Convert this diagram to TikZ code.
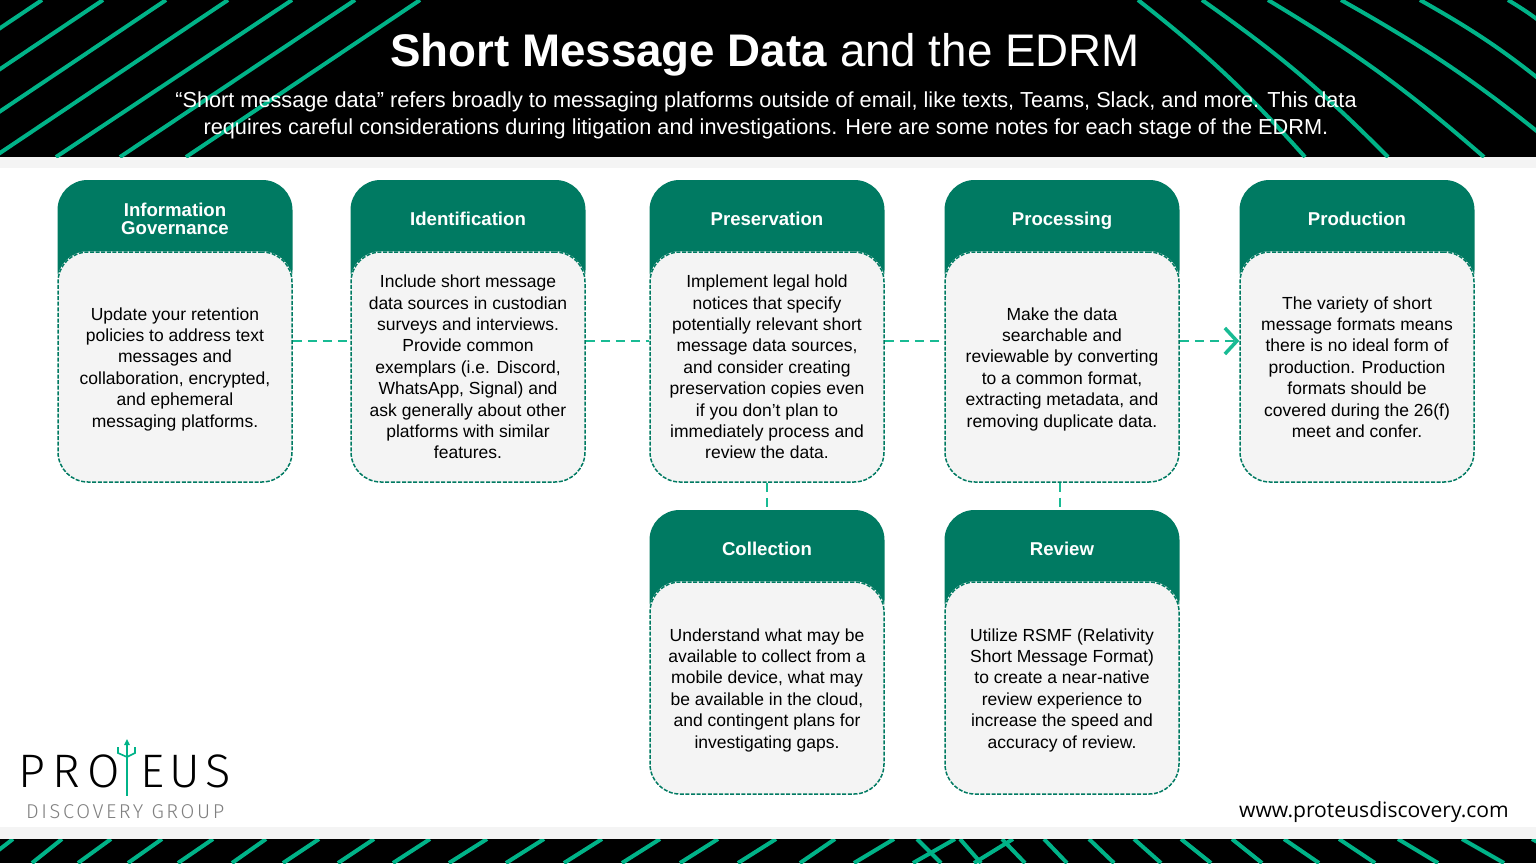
\documentclass[tikz,border=0pt]{standalone}
\usepackage{fontspec}
\usetikzlibrary{arrows.meta}
\setmainfont{Liberation Sans}
\newfontfamily\urlfont{Open Sans}
\newfontfamily\logofont[LetterSpace=16]{Fira Sans Light}
\newfontfamily\logofontb[LetterSpace=12]{Fira Sans Light}
\newfontfamily\subfont[LetterSpace=13]{Fira Sans Light}
\definecolor{teal}{HTML}{007A62}
\definecolor{stripe}{HTML}{00B388}
\definecolor{panel}{HTML}{F4F4F4}
\newcommand{\fs}[1]{\fontsize{#1}{#1}\selectfont}
\newcommand{\lowtext}{\mbox{}\\[-4.4pt]}

\begin{document}
\begin{tikzpicture}[x=1pt, y=-1pt, node distance=127pt,
	head node/.style={rectangle, rounded corners=30pt, fill=teal, minimum width=235pt, minimum height=120pt, inner sep=0pt},
	head label/.style={anchor=center, yshift=-39pt, align=center, text=white, font={\fontsize{18.6}{18}\selectfont\bfseries}},
	body node/.style={rectangle, rounded corners=30pt, draw=teal, line width=1.5pt, dash pattern=on 4pt off 1.6pt, fill=panel, preaction={draw=white, solid}, minimum width=234pt, minimum height=230pt, inner sep=0pt, align=center, font={\fontsize{17.5}{21.4}\selectfont}},
	band/.style={line width=4pt, draw=stripe},
	link/.style={draw=stripe!90!white, line width=1.6pt, dash pattern=on 9pt off 6pt}]
	\useasboundingbox (0,0) rectangle (1536,863);
	\fill[white] (0,0) rectangle (1536,863);

	% header and footer bands
	\fill[panel] (0,157) rectangle (1536,168);
	\fill[panel] (0,827) rectangle (1536,839);
	\begin{scope}
		\clip (0,0) rectangle (1536,157);
		\fill[black] (0,0) rectangle (1536,157);
		\foreach \xa/\xb in {42/-192,103/-131,166/-68,228/-6,292/56,355/120,420/186}
			\draw[band] (\xa,0) -- (\xb,157);
		\foreach \xa/\xb/\yb in {1138/1305/157,1202/1388/157,1268/1484/157,1341/1560/150,1420/1560/96,1508/1560/38}
			\draw[band] (\xa,0) to[bend left=5] (\xb,\yb);
	\end{scope}
	\begin{scope}
		\clip (0,839) rectangle (1536,863);
		\fill[black] (0,839) rectangle (1536,863);
		\foreach \xa/\xb in {13/-18,62/32,111/78,162/128,213/178,266/232,319/283,374/338,430/393,487/449,544/506,602/564,660/622,718/680,776/738,835/800,894/854,955/913,1013/974}
			\draw[band] (\xa,839) -- (\xb,863);
		\foreach \xa/\xb in {917/941,960/981,1002/1025,1044/1067,1089/1114,1134/1161,1181/1211,1232/1262,1284/1319,1339/1375,1398/1438,1462/1504,1532/1576}
			\draw[band] (\xa,839) -- (\xb,863);
	\end{scope}

	\node[text=white, font=\fs{45.7}] (title) at (765,54.5) {\textbf{Short Message Data} and the EDRM};
	\node[text=white, align=center, font={\fontsize{21.72}{27}\selectfont}] (intro) at (766,115.5) {“Short message data” refers broadly to messaging platforms outside of email, like texts, Teams, Slack, and more. This data\\requires careful considerations during litigation and investigations. Here are some notes for each stage of the EDRM.};

	% top row
	\node[head node, label={[head label]north:{Information\\Governance}}] (ighead) at (175,240) {};
	\node[body node] (igbody) [below of=ighead] {\lowtext Update your retention\\policies to address text\\messages and\\collaboration, encrypted,\\and ephemeral\\messaging platforms.};
	\node[head node, label={[head label]north:Identification}] (idhead) at (468,240) {};
	\node[body node] (idbody) [below of=idhead] {Include short message\\data sources in custodian\\surveys and interviews.\\Provide common\\exemplars (i.e. Discord,\\WhatsApp, Signal) and\\ask generally about other\\platforms with similar\\features.};
	\node[head node, label={[head label]north:Preservation}] (prhead) at (767,240) {};
	\node[body node] (prbody) [below of=prhead] {Implement legal hold\\notices that specify\\potentially relevant short\\message data sources,\\and consider creating\\preservation copies even\\if you don't plan to\\immediately process and\\review the data.};
	\node[head node, label={[head label, yshift=-2pt]north:Processing}] (pchead) at (1062,240) {};
	\node[body node] (pcbody) [below of=pchead] {\lowtext Make the data\\searchable and\\reviewable by converting\\to a common format,\\extracting metadata, and\\removing duplicate data.};
	\node[head node, label={[head label]north:Production}] (pdhead) at (1357,240) {};
	\node[body node] (pdbody) [below of=pdhead] {The variety of short\\message formats means\\there is no ideal form of\\production. Production\\formats should be\\covered during the 26(f)\\meet and confer.};

	% lower row
	\node[head node, label={[head label]north:Collection}] (cohead) at (767,570) {};
	\node[body node, minimum height=212pt] (cobody) at (767,688) {\lowtext Understand what may be\\available to collect from a\\mobile device, what may\\be available in the cloud,\\and contingent plans for\\investigating gaps.};
	\node[head node, label={[head label]north:Review}] (rvhead) at (1062,570) {};
	\node[body node, minimum height=212pt] (rvbody) at (1062,688) {\lowtext Utilize RSMF (Relativity\\Short Message Format)\\to create a near-native\\review experience to\\increase the speed and\\accuracy of review.};

	\path[link]
		([yshift=26pt]igbody.east) edge ([yshift=26pt]idbody.west)
		([yshift=26pt]idbody.east) edge ([yshift=26pt]prbody.west)
		([yshift=26pt]prbody.east) edge ([yshift=26pt]pcbody.west)
		([yshift=26pt]pcbody.east) edge[-{Straight Barb[length=12pt,width=26pt,line width=3.5pt]}] ([yshift=26pt]pdbody.west)
		(prbody.south) edge (cohead.north)
		([xshift=-2pt]pcbody.south) edge ([xshift=-2pt]rvhead.north);

	% logo
	\node[anchor=base west, inner sep=0pt, font=\logofont\fs{47}] (logoa) at (18,787) {PRO};
	\node[anchor=base west, inner sep=0pt, font=\logofontb\fs{47}] (logob) at (140,787) {EUS};
	\node[anchor=base west, inner sep=0pt, text=black!50, font=\subfont\fs{20}] (logoc) at (26,818) {DISCOVERY GROUP};
	\draw[stripe, line width=2pt] (127,743) -- (127,796);
	\draw[stripe, line width=1.6pt] (118,747) -- (118,753) -- (127,757) -- (135,753) -- (135,747);
	\fill[stripe] (127,739) -- (130,745) -- (124,745) -- cycle;

	\node[anchor=east, inner sep=0pt, font=\urlfont\fs{21.1}] (url) at (1509,812) {www.proteusdiscovery.com};
\end{tikzpicture}
\end{document}
